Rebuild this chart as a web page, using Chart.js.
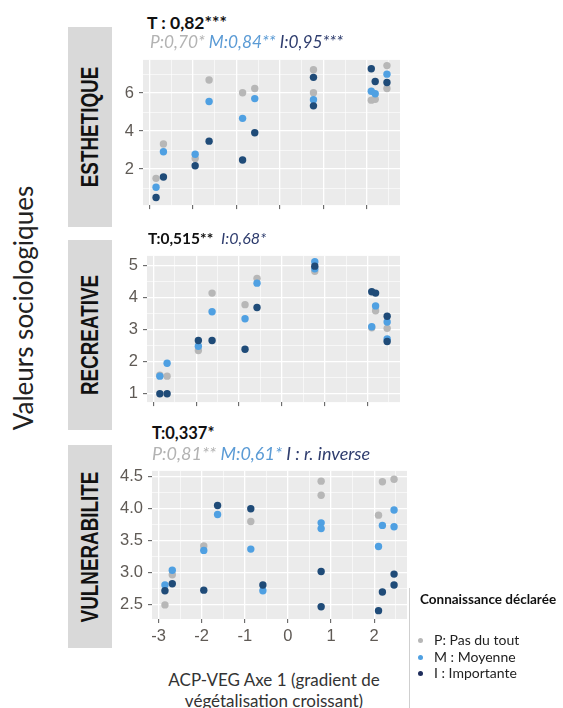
<!DOCTYPE html>
<html>
<head>
<meta charset="utf-8">
<script src="https://cdn.jsdelivr.net/npm/chart.js@4.4.0/dist/chart.umd.min.js"></script>
<style>
    html, body { margin: 0; padding: 0; background: #fff; }
    #wrap { position: relative; width: 563px; height: 708px; overflow: hidden; font-family: "Lato", "Liberation Sans", sans-serif; }
    canvas { position: absolute; }
    .strip { position: absolute; left: 68px; width: 44px; background: #d9d9d9; }
    .strip span { position: absolute; left: 50%; top: 50%; white-space: nowrap; color: #111;
        font: bold 23px "Liberation Sans", Arial, sans-serif;
        transform: translate(-50%, -50%) rotate(-90deg) scaleX(0.82); }
    .ttl { position: absolute; white-space: nowrap; line-height: 1; z-index: 2; }
    .ttl.big { font-weight: bold; font-size: 17px; color: #111; }
    .ttl.sub { font-style: italic; font-size: 17.3px; }
    .cP { color: #b3b3b3; }
    .cM { color: #5b9bd5; }
    .cI { color: #2f3d6e; }
    #ytitle { position: absolute; left: 23px; top: 308px; white-space: nowrap; font-size: 26px; color: #222;
        transform: translate(-50%, -50%) rotate(-90deg); }
    .xtitle { position: absolute; left: 274px; white-space: nowrap; font-size: 17px; color: #333;
        transform: translateX(-50%); line-height: 1; }
    #legend { position: absolute; left: 409px; top: 588px; width: 154px; height: 120px; border-left: 1px solid #cfcfcf; }
    #legend .lt { position: absolute; left: 10px; top: 3px; font-weight: bold; font-size: 13.5px; color: #111; white-space: nowrap; }
    #legend .li { position: absolute; left: 24px; font-size: 14px; color: #222; white-space: nowrap; line-height: 1; }
    #legend .li i { position: absolute; left: -16px; top: 5px; width: 5px; height: 5px; border-radius: 50%; }
</style>
</head>
<body>
<div id="wrap">
    <div id="ytitle">Valeurs sociologiques</div>

    <div class="strip" style="top:27px;height:200px"><span>ESTHETIQUE</span></div>
    <div class="strip" style="top:240px;height:190px"><span>RECREATIVE</span></div>
    <div class="strip" style="top:445px;height:203px"><span>VULNERABILITE</span></div>

    <canvas id="c1" width="309" height="175" style="left:101px;top:45px"></canvas>
    <canvas id="c2" width="305" height="176" style="left:105px;top:241px"></canvas>
    <canvas id="c3" width="307" height="193" style="left:110px;top:456px"></canvas>

    <div class="ttl big" style="left:147px;top:14px;font-size:17.5px">T : 0,82***</div>
    <div class="ttl sub" style="left:150px;top:33px"><span class="cP">P:0,70*</span> <span class="cM">M:0,84**</span> <span class="cI">I:0,95***</span></div>

    <div class="ttl big" style="left:148px;top:230px;font-size:15.5px">T:0,515** <span class="cI" style="font-weight:normal;font-style:italic;font-size:16px;margin-left:4px">I:0,68*</span></div>

    <div class="ttl big" style="left:152px;top:425px;font-size:16.5px">T:0,337*</div>
    <div class="ttl sub" style="left:152px;top:444px;font-size:18px"><span class="cP">P:0,81**</span> <span class="cM">M:0,61*</span> <span class="cI">I : r. inverse</span></div>

    <div class="xtitle" style="top:671px">ACP-VEG Axe 1 (gradient de</div>
    <div class="xtitle" style="top:692px">végétalisation croissant)</div>

    <div id="legend">
        <div class="lt">Connaissance déclarée</div>
    </div>
</div>

<script>
(function () {
    "use strict";

    // Positions des sites sur l'axe 1 de l'ACP
    var sites = [-2.85, -2.68, -1.95, -1.63, -0.86, -0.58, 0.77, 0.77, 2.10, 2.19, 2.46, 2.46];
    var groups = ['P: Pas du tout', 'M : Moyenne', 'I : Importante'];

    // Esthetique
    var esthP = [1.51, 3.32, 2.56, 6.69, 6.02, 6.24, 7.23, 6.02, 5.63, 5.68, 7.45, 6.24];
    var esthM = [1.04, 2.91, 2.78, 5.56, 4.67, 5.71, 5.65, null, 6.10, 5.97, 7.00, null];
    var esthI = [0.50, 1.58, 2.17, 3.47, 2.48, 3.91, 6.83, 5.33, 7.28, 6.61, 6.56, null];

    // Recreative
    var recP = [1.58, 1.55, 2.35, 4.14, 3.78, 4.60, 4.82, null, 3.06, 3.59, 3.04, null];
    var recM = [1.55, 1.95, 2.48, 3.56, 3.34, 4.45, 5.12, 4.90, 3.09, 3.74, 3.24, 2.71];
    var recI = [1.00, 1.00, 2.66, 2.66, 2.39, 3.69, 4.98, null, 4.18, 4.14, 3.42, 2.63];

    // Vulnerabilite
    var vulP = [2.50, 2.97, 3.42, null, 3.80, null, 4.43, 4.21, 3.90, 4.42, 4.46, null];
    var vulM = [2.81, 3.04, 3.35, 3.91, 3.37, 2.72, 3.78, 3.69, 3.41, 3.74, 3.98, 3.72];
    var vulI = [2.72, 2.83, 2.73, 4.05, 4.00, 2.81, 3.02, 2.47, 2.41, 2.70, 2.98, 2.81];

    // Graduations (majeures + mineures facon ggplot)
    var xMajor = [-3, -2, -1, 0, 1, 2];
    var xMinor = [-2.5, -1.5, -0.5, 0.5, 1.5, 2.5];
    var esthY = [2, 4, 6], esthYMinor = [1, 3, 5, 7];
    var recY = [1, 2, 3, 4, 5], recYMinor = [1.5, 2.5, 3.5, 4.5];
    var vulY = [2.5, 3.0, 3.5, 4.0, 4.5], vulYMinor = [2.75, 3.25, 3.75, 4.25];

    var colors = ['#b7b7b7', '#4fa0e2', '#1f4b78'];
    var legendDots = ['#b7b7b7', '#4fa0e2', '#1f2d5c'];
    var tickFont = { family: 'Liberation Sans', size: 16.5 };
    var tickColor = '#5f5a55';

    function pts(values) {
        var out = [];
        values.forEach(function (v, i) {
            if (v !== null) out.push({ x: sites[i], y: v });
        });
        return out;
    }

    function withMinor(major, minor) {
        return major.map(function (v) { return { value: v, minor: false }; })
            .concat(minor.map(function (v) { return { value: v, minor: true }; }))
            .sort(function (a, b) { return a.value - b.value; });
    }

    // fond gris du panneau
    var panelBg = {
        id: 'panelBg',
        beforeDraw: function (chart) {
            var a = chart.chartArea, c = chart.ctx;
            c.save();
            c.fillStyle = '#ebebeb';
            c.fillRect(a.left, a.top, a.right - a.left, a.bottom - a.top);
            c.restore();
        }
    };

    var grid = {
        color: '#ffffff',
        lineWidth: function (ctx) { return ctx.tick && ctx.tick.minor ? 0.6 : 1.3; },
        tickColor: function (ctx) { return ctx.tick && ctx.tick.minor ? 'rgba(0,0,0,0)' : '#555555'; },
        tickLength: 4,
        tickWidth: 1
    };

    function makePanel(id, p) {
        var sets = [p.P, p.M, p.I].map(function (vals, k) {
            return {
                label: groups[k],
                data: pts(vals),
                backgroundColor: colors[k],
                borderWidth: 0,
                pointRadius: 3.7,
                order: 3 - k
            };
        });

        new Chart(document.getElementById(id), {
            type: 'scatter',
            data: { datasets: sets },
            options: {
                responsive: false,
                animation: false,
                layout: { padding: { top: 12, right: 10, left: 0, bottom: 0 } },
                plugins: { legend: { display: false }, tooltip: { enabled: false } },
                scales: {
                    x: {
                        type: 'linear', min: -3.15, max: 2.76,
                        afterBuildTicks: function (s) { s.ticks = withMinor(xMajor, xMinor); },
                        afterFit: function (s) { s.height = p.xh; },
                        border: { display: false },
                        grid: grid,
                        ticks: {
                            display: p.xLabels, autoSkip: false, maxRotation: 0, padding: 4,
                            font: tickFont, color: tickColor,
                            callback: function (v, i, t) { return t[i].minor ? '' : String(v); }
                        }
                    },
                    y: {
                        type: 'linear', min: p.min, max: p.max,
                        afterBuildTicks: function (s) { s.ticks = withMinor(p.yMajor, p.yMinor); },
                        afterFit: function (s) { s.width = 42; },
                        border: { display: false },
                        grid: grid,
                        ticks: {
                            autoSkip: false, padding: 5,
                            font: tickFont, color: tickColor,
                            callback: function (v, i, t) { return t[i].minor ? '' : p.fmt(v); }
                        }
                    }
                }
            },
            plugins: [panelBg]
        });
    }

    makePanel('c1', { P: esthP, M: esthM, I: esthI, min: 0.1, max: 7.75, yMajor: esthY, yMinor: esthYMinor,
        fmt: String, xLabels: false, xh: 12 });
    makePanel('c2', { P: recP, M: recM, I: recI, min: 0.74, max: 5.3, yMajor: recY, yMinor: recYMinor,
        fmt: String, xLabels: false, xh: 12 });
    makePanel('c3', { P: vulP, M: vulM, I: vulI, min: 2.28, max: 4.59, yMajor: vulY, yMinor: vulYMinor,
        fmt: function (v) { return v.toFixed(1); }, xLabels: true, xh: 30 });

    // legende
    var lg = document.getElementById('legend');
    groups.forEach(function (g, k) {
        var d = document.createElement('div');
        d.className = 'li';
        d.style.top = (45 + k * 16.5) + 'px';
        d.innerHTML = '<i style="background:' + legendDots[k] + '"></i>' + g;
        lg.appendChild(d);
    });
})();
</script>
</body>
</html>
